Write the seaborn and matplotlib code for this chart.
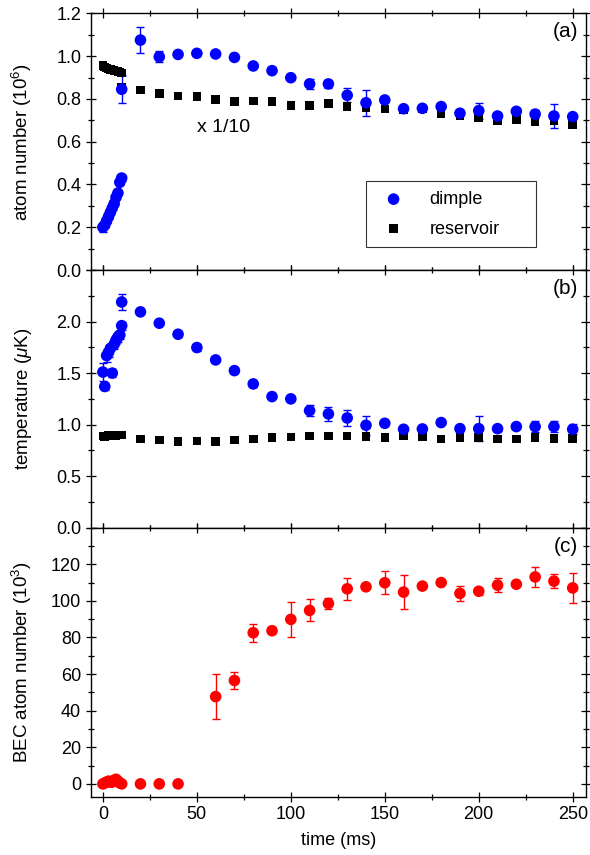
import numpy as np
import pandas as pd
import matplotlib
matplotlib.use('Agg')
import matplotlib.pyplot as plt
import seaborn as sns
from matplotlib.ticker import MultipleLocator, FuncFormatter

sns.set_style('ticks')
plt.rcParams['font.family'] = ['Liberation Sans', 'DejaVu Sans']
plt.rcParams['mathtext.fontset'] = 'custom'
plt.rcParams['mathtext.it'] = 'Liberation Sans:italic'
plt.rcParams['mathtext.rm'] = 'Liberation Sans'
plt.rcParams['text.color'] = 'black'
plt.rcParams['axes.labelcolor'] = 'black'
plt.rcParams['xtick.color'] = 'black'
plt.rcParams['ytick.color'] = 'black'

# time axis: early scan (1 ms steps) and late scan (10 ms steps)
t_early = [0, 1, 2, 3, 4, 5, 6, 7, 8, 9, 10]
t_late = [10, 20, 30, 40, 50, 60, 70, 80, 90, 100, 110, 120, 130, 140, 150,
          160, 170, 180, 190, 200, 210, 220, 230, 240, 250]
t_bec_late = [20, 30, 40, 60, 70, 80, 90, 100, 110, 120, 130, 140, 150,
              160, 170, 180, 190, 200, 210, 220, 230, 240, 250]

# (a) atom number (10^6)
dimple_n_early = [0.20, 0.21, 0.23, 0.25, 0.27, 0.29, 0.31, 0.34, 0.36, 0.41, 0.43]
dimple_n_early_err = [0.02, 0.01, 0.01, 0.01, 0.01, 0.01, 0.01, 0.01, 0.01, 0.01, 0.015]
dimple_n_late = [0.845, 1.075, 0.997, 1.008, 1.013, 1.01, 0.994, 0.954, 0.932, 0.899,
                 0.87, 0.87, 0.817, 0.782, 0.795, 0.754, 0.756, 0.764, 0.733, 0.745,
                 0.72, 0.742, 0.729, 0.72, 0.717]
dimple_n_late_err = [0.065, 0.06, 0.025, 0.005, 0.005, 0.005, 0.005, 0.01, 0.005, 0.005,
                     0.023, 0.02, 0.033, 0.06, 0.005, 0.005, 0.01, 0.005, 0.005, 0.037,
                     0.005, 0.005, 0.02, 0.055, 0.005]
res_n_early = [0.955, 0.95, 0.945, 0.94, 0.937, 0.935, 0.932, 0.93, 0.927, 0.925, 0.922]
res_n_late = [0.855, 0.842, 0.826, 0.813, 0.81, 0.798, 0.787, 0.79, 0.787, 0.768,
              0.768, 0.779, 0.764, 0.76, 0.753, 0.748, 0.753, 0.729, 0.721, 0.714,
              0.697, 0.704, 0.693, 0.698, 0.681]

# (b) temperature (uK)
dimple_T_early = [1.51, 1.37, 1.67, 1.70, 1.74, 1.50, 1.78, 1.82, 1.85, 1.87, 1.96]
dimple_T_early_err = [0.09, 0.03, 0.06, 0.04, 0.03, 0.035, 0.05, 0.04, 0.05, 0.04, 0.04]
dimple_T_late = [2.19, 2.094, 1.984, 1.877, 1.748, 1.628, 1.524, 1.395, 1.272, 1.25,
                 1.136, 1.104, 1.065, 0.994, 1.013, 0.955, 0.958, 1.02, 0.961, 0.961,
                 0.961, 0.981, 0.981, 0.981, 0.955]
dimple_T_late_err = [0.08, 0.005, 0.01, 0.03, 0.03, 0.01, 0.02, 0.03, 0.01, 0.01,
                     0.057, 0.065, 0.075, 0.09, 0.01, 0.01, 0.02, 0.01, 0.02, 0.12,
                     0.02, 0.02, 0.05, 0.05, 0.05]
res_T_early = [0.89, 0.885, 0.89, 0.895, 0.89, 0.895, 0.9, 0.895, 0.9, 0.9, 0.9]
res_T_late = [0.9, 0.861, 0.851, 0.835, 0.841, 0.835, 0.851, 0.861, 0.877, 0.88,
              0.89, 0.89, 0.89, 0.884, 0.874, 0.89, 0.884, 0.861, 0.874, 0.874,
              0.861, 0.861, 0.874, 0.868, 0.868]

# (c) BEC atom number (10^3)
bec_early = [0, 0.5, 1, 1.5, 1, 1, 2, 2.5, 1.5, 0.5, 0]
bec_late = [0, 0, 0, 47.7, 56.5, 82.6, 83.7, 89.9, 94.8, 98.6, 106.6, 107.7, 109.9,
            104.8, 108.1, 110, 104.1, 105.3, 108.6, 109.1, 113.1, 110.8, 107.1]
bec_late_err = [0, 0, 0, 12.3, 4.8, 5, 1.5, 9.5, 6, 3, 6, 1, 6.3,
                9.3, 1, 1, 4, 2, 3.8, 1, 5.3, 3.9, 8.3]

dimple_a = pd.DataFrame({'t': t_early + t_late, 'y': dimple_n_early + dimple_n_late,
                         'e': dimple_n_early_err + dimple_n_late_err})
res_a = pd.DataFrame({'t': t_early + t_late, 'y': res_n_early + res_n_late})
dimple_b = pd.DataFrame({'t': t_early + t_late, 'y': dimple_T_early + dimple_T_late,
                         'e': dimple_T_early_err + dimple_T_late_err})
res_b = pd.DataFrame({'t': t_early + t_late, 'y': res_T_early + res_T_late})
bec = pd.DataFrame({'t': t_early + t_bec_late, 'y': bec_early + bec_late,
                    'e': [0.3] * len(t_early) + bec_late_err})

BLUE = '#0000ff'
RED = '#ff0000'
LAB = 13.5

fig, axes = plt.subplots(3, 1, figsize=(5.9, 8.55), dpi=100, sharex=True,
                         gridspec_kw={'height_ratios': [256.7, 257.7, 269]})
fig.subplots_adjust(left=0.154, right=0.993, top=0.9844, bottom=0.0682, hspace=0)

ax = axes[0]
ax.errorbar(dimple_a['t'], dimple_a['y'], yerr=dimple_a['e'], fmt='none',
            ecolor=BLUE, elinewidth=1, capsize=3, zorder=2)
sns.scatterplot(data=res_a, x='t', y='y', ax=ax, marker='s', color='black', s=38,
                edgecolor='none', label='reservoir', zorder=3)
sns.scatterplot(data=dimple_a, x='t', y='y', ax=ax, marker='o', color=BLUE, s=70,
                edgecolor='none', label='dimple', zorder=4)
ax.set_ylim(0, 1.2)
ax.yaxis.set_major_locator(MultipleLocator(0.2))
ax.yaxis.set_minor_locator(MultipleLocator(0.1))
ax.yaxis.set_major_formatter(FuncFormatter(lambda v, p: '%.1f' % v))
ax.set_ylabel('atom number (10$^6$)', fontsize=LAB)
ax.text(64, 0.664, 'x 1/10', fontsize=14, ha='center', va='center')
ax.text(0.985, 0.965, '(a)', transform=ax.transAxes, fontsize=15, ha='right', va='top')
h, l = ax.get_legend_handles_labels()
leg = ax.legend(h[::-1], l[::-1], loc='lower left',
                bbox_to_anchor=(0.555, 0.088, 0.344, 0.246), mode='expand',
                borderaxespad=0, frameon=True, fancybox=False, edgecolor='black',
                fontsize=13, handletextpad=1.0, borderpad=0.55, labelspacing=0.7,
                markerscale=1.0)
leg.get_frame().set_linewidth(0.8)

ax = axes[1]
ax.errorbar(dimple_b['t'], dimple_b['y'], yerr=dimple_b['e'], fmt='none',
            ecolor=BLUE, elinewidth=1, capsize=3, zorder=2)
sns.scatterplot(data=res_b, x='t', y='y', ax=ax, marker='s', color='black', s=38,
                edgecolor='none', zorder=3, legend=False)
sns.scatterplot(data=dimple_b, x='t', y='y', ax=ax, marker='o', color=BLUE, s=70,
                edgecolor='none', zorder=4, legend=False)
ax.set_ylim(0, 2.5)
ax.yaxis.set_major_locator(MultipleLocator(0.5))
ax.yaxis.set_minor_locator(MultipleLocator(0.25))
ax.yaxis.set_major_formatter(FuncFormatter(lambda v, p: '' if v > 2.4 else '%.1f' % v))
ax.set_ylabel(r'temperature ($\mu$K)', fontsize=LAB)
ax.text(0.985, 0.965, '(b)', transform=ax.transAxes, fontsize=15, ha='right', va='top')

ax = axes[2]
ax.errorbar(bec['t'], bec['y'], yerr=bec['e'], fmt='none',
            ecolor=RED, elinewidth=1, capsize=3, zorder=2)
sns.scatterplot(data=bec, x='t', y='y', ax=ax, marker='o', color=RED, s=70,
                edgecolor='none', zorder=4, legend=False)
ax.set_ylim(-7, 140)
ax.yaxis.set_major_locator(MultipleLocator(20))
ax.yaxis.set_minor_locator(MultipleLocator(10))
ax.yaxis.set_major_formatter(FuncFormatter(lambda v, p: '' if v > 130 else '%d' % v))
ax.set_ylabel('BEC atom number (10$^3$)', fontsize=LAB)
ax.text(0.985, 0.965, '(c)', transform=ax.transAxes, fontsize=15, ha='right', va='top')
ax.set_xlabel('time (ms)', fontsize=13, labelpad=6)

for ax in axes:
    ax.set_xlim(-6.4, 257)
    ax.xaxis.set_major_locator(MultipleLocator(50))
    ax.xaxis.set_minor_locator(MultipleLocator(25))
    ax.tick_params(which='both', direction='inout', top=True, right=True,
                   labelsize=13, width=0.9, color='black', labelcolor='black')
    ax.tick_params(which='major', length=7)
    ax.tick_params(which='minor', length=4)
    for s in ax.spines.values():
        s.set_linewidth(1.0)
        s.set_color('black')
    ax.yaxis.set_label_coords(-0.115, 0.5)

fig.savefig('out.png', dpi=100)
